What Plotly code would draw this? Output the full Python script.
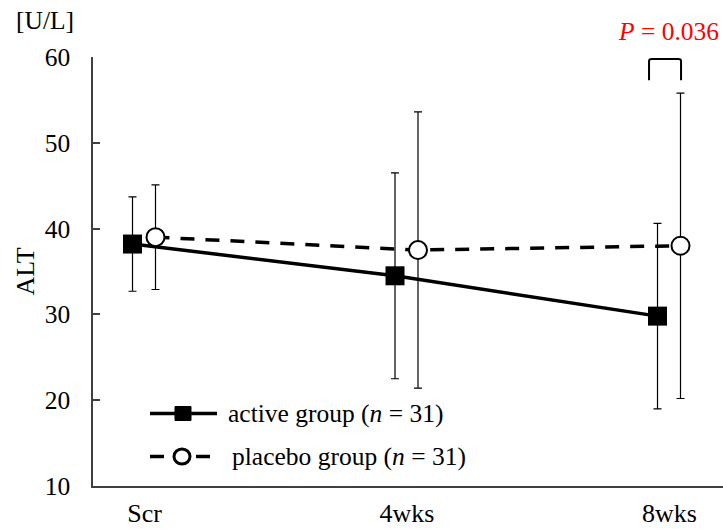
import plotly.graph_objects as go

# ---- data ----
categories = ["Scr", "4wks", "8wks"]
active_mean = [38.2, 34.5, 29.8]
active_sd = [5.5, 12.0, 10.8]
placebo_mean = [39.0, 37.5, 38.0]
placebo_sd = [6.1, 16.1, 17.8]
y_ticks = [10, 20, 30, 40, 50, 60]
legend_labels = ["active group (<i>n</i> = 31)", "placebo group (<i>n</i> = 31)"]
p_label = "<i>P</i> = 0.036"

FONT = "Liberation Serif, Times New Roman, serif"
FS = 25.5
OFF_A = -0.0457
OFF_P = 0.0419
idx = list(range(len(categories)))

fig = go.Figure()
fig.add_trace(go.Scatter(
    x=[i + OFF_A for i in idx], y=active_mean, mode="lines+markers",
    line=dict(color="black", width=3.5),
    marker=dict(symbol="square", size=19, color="black"),
    error_y=dict(type="data", array=active_sd, color="black", thickness=1.2, width=4),
    showlegend=False, cliponaxis=False))
fig.add_trace(go.Scatter(
    x=[i + OFF_P for i in idx], y=placebo_mean, mode="lines+markers",
    line=dict(color="black", width=3.5, dash="14px,11px"),
    marker=dict(symbol="circle", size=18, color="white", line=dict(color="black", width=2)),
    error_y=dict(type="data", array=placebo_sd, color="black", thickness=1.2, width=4),
    showlegend=False, cliponaxis=False))

# custom legend (pixel-ish paper coords)
W, H = 723, 529
L, R, T, B = 93, 0, 57, 43
pw, ph = W - L - R, H - T - B
def px(xp):
    return (xp - L) / pw
def py(yp):
    return (H - B - yp) / ph

rows = [413.5, 456.5]
# active row
fig.add_shape(type="line", xref="paper", yref="paper", x0=px(150), x1=px(217), y0=py(rows[0]), y1=py(rows[0]),
              line=dict(color="black", width=3.5))
fig.add_shape(type="rect", xref="paper", yref="paper", x0=px(175), x1=px(191), y0=py(rows[0] - 7), y1=py(rows[0] + 7),
              line=dict(color="black", width=1), fillcolor="black")
# placebo row
fig.add_shape(type="line", xref="paper", yref="paper", x0=px(150), x1=px(217), y0=py(rows[1]), y1=py(rows[1]),
              line=dict(color="black", width=3.5, dash="14px,9px"))
fig.add_shape(type="circle", xref="paper", yref="paper", x0=px(174), x1=px(190), y0=py(rows[1] - 7.5), y1=py(rows[1] + 7.5),
              line=dict(color="black", width=3), fillcolor="white")
fig.add_annotation(xref="paper", yref="paper", x=px(226), y=py(rows[0]), text=legend_labels[0], showarrow=False,
                   xanchor="left", yanchor="middle", font=dict(family=FONT, size=FS, color="black"))
fig.add_annotation(xref="paper", yref="paper", x=px(230), y=py(rows[1]), text=legend_labels[1], showarrow=False,
                   xanchor="left", yanchor="middle", font=dict(family=FONT, size=FS, color="black"))

# unit label and p-value
fig.add_annotation(xref="paper", yref="paper", x=px(14), y=py(21), text="[U/L]", showarrow=False,
                   xanchor="left", yanchor="middle", font=dict(family=FONT, size=FS, color="black"))
fig.add_annotation(xref="paper", yref="paper", x=px(721), y=py(31), text=p_label, showarrow=False,
                   xanchor="right", yanchor="middle", font=dict(family=FONT, size=FS, color="red"))
# bracket
bx0, bx1 = 1.922, 2.044
fig.add_shape(type="path", xref="x", yref="y",
              path=f"M {bx0},57.3 L {bx0},59.5 Q {bx0},59.77 {bx0+0.01},59.77 L {bx1-0.01},59.77 Q {bx1},59.77 {bx1},59.5 L {bx1},57.3",
              line=dict(color="black", width=2))

fig.update_layout(
    width=W, height=H, margin=dict(l=L, r=R, t=T, b=B, pad=0, autoexpand=False),
    paper_bgcolor="white", plot_bgcolor="white",
    font=dict(family=FONT, size=FS, color="black"),
    xaxis=dict(range=[-0.1962, 2.2038], tickmode="array", tickvals=idx, ticktext=categories,
               showgrid=False, zeroline=False, showline=True, linecolor="#404040", linewidth=1.5,
               ticks="", ticklabelstandoff=3, automargin=False, tickfont=dict(family=FONT, size=26)),
    yaxis=dict(range=[10, 60], tickmode="array", tickvals=y_ticks,
               showgrid=False, zeroline=False, showline=True, linecolor="#404040", linewidth=1.5,
               ticks="inside", ticklen=7, tickwidth=1.5, tickcolor="#404040", automargin=False,
               ticklabelstandoff=16, tickfont=dict(family=FONT, size=FS),
               title=dict(text="ALT", standoff=3, font=dict(family=FONT, size=26, color="black"))),
)

fig.write_html("out.html", post_script="document.body.style.margin='0';",
               config={"displayModeBar": False})
